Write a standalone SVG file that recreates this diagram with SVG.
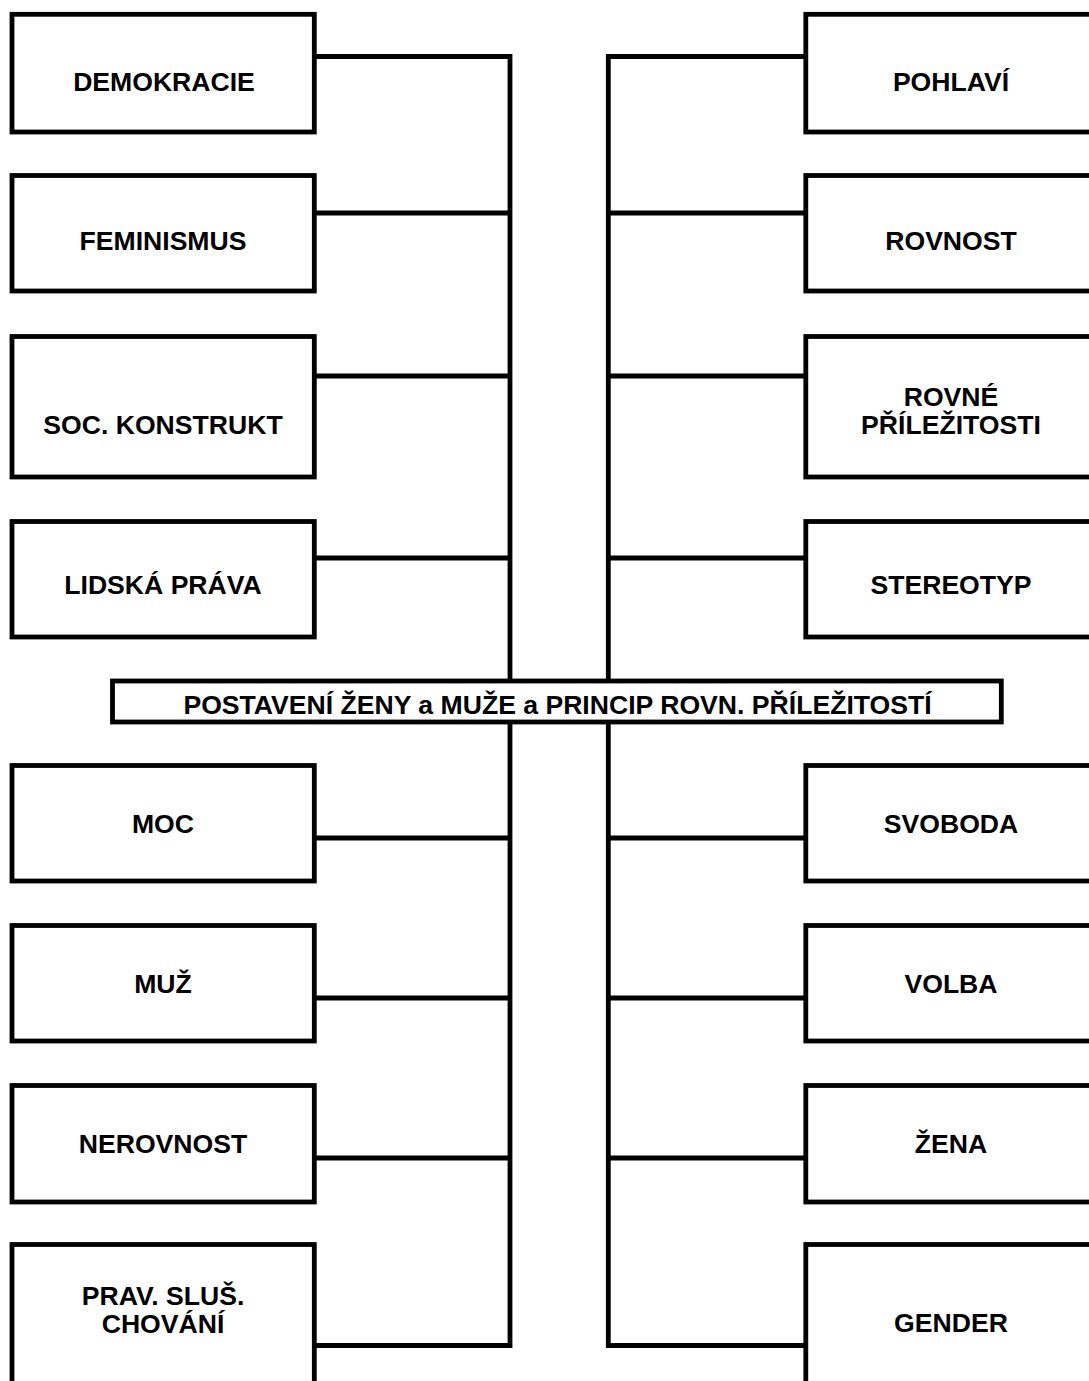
<svg xmlns="http://www.w3.org/2000/svg" width="1089" height="1381" viewBox="0 0 1089 1381">
<style>
.box{fill:#fff;stroke:#000;stroke-width:4.8}
.ln{fill:none;stroke:#000;stroke-width:4.8;stroke-linejoin:miter;stroke-linecap:butt}
text{font-family:"Liberation Sans",Arial,sans-serif;font-weight:bold;font-size:26.6px;fill:#000;text-anchor:middle}
</style>
<rect width="1089" height="1381" fill="#fff"/>
<g id="connectors">
<path class="ln" d="M314 56.5H510V1345.5H314"/>
<path class="ln" d="M314 213H510M314 376H510M314 558H510M314 838H510M314 998H510M314 1158H510"/>
<path class="ln" d="M806 56.5H608.3V1345.5H806"/>
<path class="ln" d="M806 213H608.3M806 376H608.3M806 558H608.3M806 838H608.3M806 998H608.3M806 1158H608.3"/>
</g>
<g id="n-demokracie"><rect class="box" x="12" y="14.3" width="302.3" height="117.7"/><text x="164" y="90.5">DEMOKRACIE</text></g>
<g id="n-feminismus"><rect class="box" x="12" y="175.5" width="302.3" height="115.5"/><text x="163" y="249.5">FEMINISMUS</text></g>
<g id="n-soc-konstrukt"><rect class="box" x="12" y="336.5" width="302.3" height="140.5"/><text x="163" y="433.5">SOC. KONSTRUKT</text></g>
<g id="n-lidska-prava"><rect class="box" x="12" y="521.5" width="302.3" height="115.5"/><text x="163" y="593.5">LIDSKÁ PRÁVA</text></g>
<g id="n-moc"><rect class="box" x="12" y="765.5" width="302.3" height="115.5"/><text x="163" y="832.5">MOC</text></g>
<g id="n-muz"><rect class="box" x="12" y="925.5" width="302.3" height="115.5"/><text x="163" y="992.5">MUŽ</text></g>
<g id="n-nerovnost"><rect class="box" x="12" y="1085.5" width="302.3" height="116.5"/><text x="163" y="1152.5">NEROVNOST</text></g>
<g id="n-prav-slus-chovani"><rect class="box" x="12" y="1244.5" width="302.3" height="160"/><text x="163" y="1305">PRAV. SLUŠ.</text><text x="163" y="1332.5">CHOVÁNÍ</text></g>
<g id="n-pohlavi"><rect class="box" x="805.8" y="14.3" width="304" height="117.7"/><text x="951" y="90.5">POHLAVÍ</text></g>
<g id="n-rovnost"><rect class="box" x="805.8" y="175.5" width="304" height="115.5"/><text x="951" y="249.5">ROVNOST</text></g>
<g id="n-rovne-prilezitosti"><rect class="box" x="805.8" y="336.5" width="304" height="140.5"/><text x="951" y="406">ROVNÉ</text><text x="951" y="433.5">PŘÍLEŽITOSTI</text></g>
<g id="n-stereotyp"><rect class="box" x="805.8" y="521.5" width="304" height="115.5"/><text x="951" y="593.5">STEREOTYP</text></g>
<g id="n-svoboda"><rect class="box" x="805.8" y="765.5" width="304" height="115.5"/><text x="951" y="832.5">SVOBODA</text></g>
<g id="n-volba"><rect class="box" x="805.8" y="925.5" width="304" height="115.5"/><text x="951" y="992.5">VOLBA</text></g>
<g id="n-zena"><rect class="box" x="805.8" y="1085.5" width="304" height="116.5"/><text x="951" y="1152.5">ŽENA</text></g>
<g id="n-gender"><rect class="box" x="805.8" y="1244.5" width="304" height="160"/><text x="951" y="1331.5">GENDER</text></g>
<g id="n-center"><rect class="box" x="112.5" y="681" width="888.8" height="41"/><text x="557.5" y="714">POSTAVENÍ ŽENY a MUŽE a PRINCIP ROVN. PŘÍLEŽITOSTÍ</text></g>
</svg>
